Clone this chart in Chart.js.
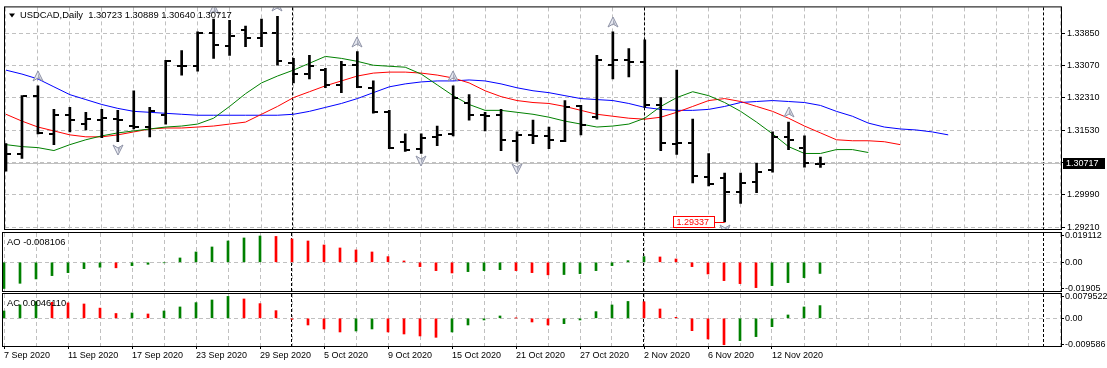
<!DOCTYPE html>
<html>
<head>
<meta charset="utf-8">
<title>USDCAD Daily</title>
<script src="https://cdn.jsdelivr.net/npm/chart.js@4.4.1/dist/chart.umd.min.js"></script>
<style>
  html, body { margin: 0; padding: 0; background: #fff; }
  body { position: relative; width: 1107px; height: 368px; overflow: hidden; }
  canvas { position: absolute; left: 0; }
  #main { top: 0; }
  #ao { top: 226px; }
  #ac { top: 286px; }
</style>
</head>
<body>
<canvas id="main" width="1107" height="240"></canvas>
<canvas id="ao" width="1107" height="72"></canvas>
<canvas id="ac" width="1107" height="82"></canvas>
<script>
const symbol = 'USDCAD,Daily';

const dates = ['7 Sep 2020','8 Sep 2020','9 Sep 2020','10 Sep 2020','11 Sep 2020','14 Sep 2020','15 Sep 2020','16 Sep 2020','17 Sep 2020','18 Sep 2020',
  '21 Sep 2020','22 Sep 2020','23 Sep 2020','24 Sep 2020','25 Sep 2020','28 Sep 2020','29 Sep 2020','30 Sep 2020','1 Oct 2020','2 Oct 2020',
  '5 Oct 2020','6 Oct 2020','7 Oct 2020','8 Oct 2020','9 Oct 2020','12 Oct 2020','13 Oct 2020','14 Oct 2020','15 Oct 2020','16 Oct 2020',
  '19 Oct 2020','20 Oct 2020','21 Oct 2020','22 Oct 2020','23 Oct 2020','26 Oct 2020','27 Oct 2020','28 Oct 2020','29 Oct 2020','30 Oct 2020',
  '2 Nov 2020','3 Nov 2020','4 Nov 2020','5 Nov 2020','6 Nov 2020','9 Nov 2020','10 Nov 2020','11 Nov 2020','12 Nov 2020','13 Nov 2020',
  '16 Nov 2020','17 Nov 2020'];

const open = [1.31022,1.30951,1.32357,1.31443,1.31889,1.31678,1.31771,1.31795,1.31631,1.31607,
  1.31889,1.33060,1.33060,1.33857,1.33552,1.33927,1.33740,1.33857,1.33131,1.32873,
  1.32967,1.32615,1.33084,1.32545,1.31959,1.31256,1.31092,1.31373,1.31443,1.32193,
  1.31889,1.31889,1.31279,1.31420,1.31396,1.31279,1.32099,1.31842,1.33084,1.33201,
  1.33154,1.32123,1.31209,1.31232,1.30412,1.30389,1.30061,1.30295,1.30576,1.31373,
  1.31115,1.30723];
const high = [1.31209,1.32357,1.32592,1.32029,1.32076,1.31959,1.32029,1.32006,1.32474,1.32076,
  1.33201,1.33435,1.33880,1.34185,1.34160,1.34021,1.34185,1.34255,1.33248,1.33318,
  1.33013,1.33177,1.33412,1.32709,1.32006,1.31443,1.31443,1.31631,1.32592,1.32381,
  1.31959,1.32029,1.31490,1.31771,1.31607,1.32240,1.32123,1.33318,1.33880,1.33482,
  1.33693,1.32310,1.32967,1.31795,1.30975,1.30506,1.30506,1.30740,1.31490,1.31725,
  1.31396,1.30889];
const low = [1.30553,1.30857,1.31440,1.31186,1.31490,1.31537,1.31350,1.31256,1.31561,1.31373,
  1.31678,1.32849,1.32943,1.33248,1.33318,1.33529,1.33529,1.33084,1.32662,1.32756,
  1.32545,1.32428,1.32545,1.31940,1.31092,1.31022,1.30975,1.31162,1.31396,1.31771,
  1.31514,1.31045,1.30787,1.31209,1.31092,1.31256,1.31420,1.31795,1.32756,1.32803,
  1.32076,1.31045,1.30951,1.30272,1.30201,1.29337,1.29779,1.30037,1.30529,1.31068,
  1.30647,1.30640];
const close = [1.30951,1.32340,1.31467,1.31889,1.31771,1.31795,1.31818,1.31771,1.31607,1.31982,
  1.33177,1.33070,1.33857,1.33576,1.33787,1.33740,1.33857,1.33177,1.32873,1.33060,
  1.32615,1.33084,1.32568,1.31959,1.31115,1.31068,1.31350,1.31420,1.32310,1.31889,
  1.31870,1.31303,1.31420,1.31396,1.31303,1.32076,1.31654,1.33201,1.33201,1.33154,
  1.32123,1.31232,1.31232,1.30436,1.30248,1.30061,1.30272,1.30529,1.31373,1.31303,
  1.30740,1.30717];

// Alligator lines (already shifted forward past the last bar)
const jaw = [1.32967,1.32873,1.32756,1.32568,1.32381,1.32263,1.32146,1.32053,1.31982,1.31959,
  1.31935,1.31912,1.31889,1.31889,1.31889,1.31889,1.31889,1.31889,1.31912,1.31982,
  1.32076,1.32170,1.32287,1.32428,1.32568,1.32638,1.32685,1.32709,1.32709,1.32732,
  1.32709,1.32638,1.32545,1.32474,1.32428,1.32357,1.32287,1.32263,1.32240,1.32170,
  1.32076,1.32029,1.32006,1.32006,1.32029,1.32099,1.32193,1.32217,1.32240,1.32217,
  1.32193,1.32123,1.31982,1.31865,1.31701,1.31607,1.31561,1.31537,1.31490,1.31420];
const teeth = [1.31912,1.31748,1.31607,1.31514,1.31420,1.31373,1.31373,1.31420,1.31490,1.31561,
  1.31584,1.31584,1.31607,1.31631,1.31678,1.31725,1.31912,1.32099,1.32310,1.32451,
  1.32592,1.32709,1.32826,1.32896,1.32920,1.32920,1.32896,1.32849,1.32779,1.32662,
  1.32474,1.32334,1.32240,1.32193,1.32170,1.32099,1.32006,1.31912,1.31865,1.31818,
  1.31795,1.31842,1.31959,1.32099,1.32240,1.32287,1.32217,1.32099,1.31982,1.31818,
  1.31631,1.31467,1.31303,1.31279,1.31279,1.31256,1.31186];
const lips = [1.31186,1.31139,1.31115,1.31045,1.31186,1.31303,1.31396,1.31467,1.31514,1.31561,
  1.31607,1.31631,1.31678,1.31818,1.32099,1.32404,1.32662,1.32826,1.32967,1.33131,
  1.33295,1.33248,1.33177,1.33084,1.33060,1.33037,1.32873,1.32615,1.32357,1.32146,
  1.32006,1.32006,1.31959,1.31912,1.31842,1.31748,1.31678,1.31607,1.31631,1.31678,
  1.31818,1.32099,1.32310,1.32451,1.32357,1.32193,1.31982,1.31725,1.31443,1.31139,
  1.30975,1.30975,1.31068,1.31068,1.30998];

const fractalUp = [2, 13, 17, 22, 28, 38, 49];
const fractalDown = [7, 26, 32, 45];

const ao = [-0.01905,-0.01526,-0.01211,-0.00969,-0.00751,-0.00460,-0.00360,-0.00400,-0.00242,-0.00145,
  -0.00030,0.00315,0.00751,0.01114,0.01550,0.01768,0.019112,0.01880,0.01696,0.01550,
  0.01260,0.01042,0.00896,0.00751,0.00412,0.00097,-0.00315,-0.00605,-0.00775,-0.00678,
  -0.00605,-0.00533,-0.00605,-0.00751,-0.00910,-0.00890,-0.00823,-0.00605,-0.00242,0.00120,
  0.00412,0.00388,0.00242,-0.00315,-0.00848,-0.01332,-0.01550,-0.01841,-0.01696,-0.01478,
  -0.01114,-0.008106];
const ac = [0.00266,0.00484,0.00605,0.00580,0.00560,0.00520,0.00370,0.00175,0.00194,0.00157,
  0.00266,0.00412,0.00569,0.00665,0.0079522,0.00702,0.00533,0.00278,-0.00040,-0.00242,
  -0.00387,-0.00496,-0.00460,-0.00387,-0.00496,-0.00569,-0.00641,-0.00690,-0.00496,-0.00242,
  -0.00060,0.00085,0.00010,-0.00133,-0.00242,-0.00194,-0.00060,0.00242,0.00484,0.00612,
  0.00600,0.00339,0.00036,-0.00448,-0.00750,-0.009586,-0.00811,-0.00665,-0.00303,0.00121,
  0.00412,0.0046110];

const priceTicks = [1.29210, 1.29990, 1.30760, 1.31530, 1.32310, 1.33070, 1.33850];
const aoTicks = [-0.01905, 0, 0.019112];
const acTicks = [-0.009586, 0, 0.0079522];
const separators = [18, 40, 65];

const FONT = '"Liberation Sans", Arial, sans-serif';
Chart.defaults.font.family = FONT;
Chart.defaults.font.size = 9;
Chart.defaults.color = '#000';

const GRID = '#c0c0c0';
const GREEN = '#008000';
const RED = '#ff0000';
const gridBars = Array.from({length: 34}, (_, k) => k * 2);

function dateLabel(v) {
  return Number.isInteger(v) && v % 4 === 0 && v < dates.length ? dates[v] : '';
}

function xAxis(withLabels) {
  return {
    type: 'linear', min: -0.0625, max: 66.0625, offset: false,
    afterBuildTicks: s => { s.ticks = gridBars.map(v => ({value: v})); },
    afterFit: s => { s.height = withLabels ? 22 : 0; },
    grid: {
      offset: false, color: GRID, drawTicks: withLabels, tickLength: 3, tickBorderDash: [],
      tickColor: c => (c.tick && dateLabel(c.tick.value)) ? '#000' : 'rgba(0,0,0,0)'
    },
    border: {display: false, dash: [4, 3]},
    ticks: {display: withLabels, autoSkip: false, maxRotation: 0, minRotation: 0, align: 'start', padding: 1,
      callback: v => dateLabel(v)}
  };
}

function panelAxis(min, max, values) {
  return {
    type: 'linear', position: 'right', min: min, max: max,
    afterBuildTicks: s => { s.ticks = values.map(v => ({value: v})); },
    afterFit: s => { s.width = 46; },
    grid: {color: c => (c.tick && c.tick.value === 0) ? GRID : 'rgba(0,0,0,0)',
      tickLength: 3, tickColor: '#000', tickBorderDash: []},
    border: {display: false, dash: [4, 3]},
    ticks: {padding: 1, callback: v => v === 0 ? '0.00' : String(v)}
  };
}

// bar ticks and fractal arrows as point images
function tickImg(isOpen) {
  const c = document.createElement('canvas');
  c.width = 10; c.height = 2;
  const g = c.getContext('2d');
  g.fillStyle = '#000';
  g.fillRect(isOpen ? 0 : 6, 0, 4, 2);
  return c;
}
function arrowImg(up) {
  const c = document.createElement('canvas');
  c.width = 12; c.height = 36;
  const g = c.getContext('2d');
  g.translate(6, up ? 8 : 26);
  if (!up) g.scale(1, -1);
  g.beginPath(); g.moveTo(0, -5); g.lineTo(-5, 5); g.lineTo(0, 2); g.lineTo(5, 5); g.closePath();
  g.fillStyle = '#e6e8f0'; g.fill();
  g.strokeStyle = '#8c90a4'; g.lineWidth = 1; g.stroke();
  g.beginPath(); g.moveTo(0, -3); g.lineTo(3, 4); g.lineTo(0, 2); g.closePath();
  g.fillStyle = '#a4a8b8'; g.fill();
  return c;
}

const panelFrame = {
  id: 'panelFrame',
  beforeDatasetsDraw(chart) {
    const {ctx, chartArea: a, scales: {x}} = chart;
    ctx.save();
    ctx.strokeStyle = '#000'; ctx.lineWidth = 1; ctx.setLineDash([3, 2]);
    separators.forEach(i => {
      const px = Math.round(x.getPixelForValue(i)) - 0.5;
      ctx.beginPath(); ctx.moveTo(px, a.top); ctx.lineTo(px, a.bottom); ctx.stroke();
    });
    ctx.restore();
    ctx.imageSmoothingEnabled = false;
  },
  afterDraw(chart) {
    const {ctx, chartArea: a} = chart;
    ctx.save();
    ctx.strokeStyle = '#000'; ctx.lineWidth = 1;
    ctx.strokeRect(a.left - 0.5, a.top - 0.5, a.right - a.left + 1, a.bottom - a.top + 1);
    ctx.restore();
  }
};

const last = close.length - 1;

const priceExtras = {
  id: 'priceExtras',
  beforeDatasetsDraw(chart) {
    const {ctx, chartArea: a, scales: {y}} = chart;
    const py = Math.round(y.getPixelForValue(close[last])) - 0.5;
    ctx.save();
    ctx.strokeStyle = GRID; ctx.lineWidth = 1;
    ctx.beginPath(); ctx.moveTo(a.left, py); ctx.lineTo(a.right, py); ctx.stroke();
    ctx.restore();
  },
  afterDraw(chart) {
    const {ctx, chartArea: a, scales: {x, y}} = chart;
    ctx.save();
    // bid label
    const py = Math.round(y.getPixelForValue(close[last]));
    ctx.fillStyle = '#000';
    ctx.fillRect(a.right + 2, py - 6, 42, 11);
    ctx.fillStyle = '#fff';
    ctx.textBaseline = 'middle';
    ctx.font = '9px ' + FONT;
    ctx.fillText(close[last].toFixed(5), a.right + 5, py);
    // lowest low label
    const li = low.indexOf(Math.min(...low));
    const lx = x.getPixelForValue(li);
    const ly = Math.round(y.getPixelForValue(low[li])) + 0.5;
    const bx = Math.round(lx) - 51.5;
    ctx.strokeStyle = RED; ctx.lineWidth = 1;
    ctx.fillStyle = '#fff';
    ctx.fillRect(bx, ly - 6, 41, 11);
    ctx.strokeRect(bx, ly - 6, 41, 11);
    ctx.beginPath(); ctx.moveTo(bx + 41, ly); ctx.lineTo(lx, ly); ctx.stroke();
    ctx.fillStyle = RED;
    ctx.fillText(low[li].toFixed(5), bx + 3, ly);
    // header
    ctx.fillStyle = '#000';
    ctx.beginPath();
    ctx.moveTo(a.left + 4, a.top + 6); ctx.lineTo(a.left + 10, a.top + 6); ctx.lineTo(a.left + 7, a.top + 10);
    ctx.closePath(); ctx.fill();
    ctx.font = '9.4px ' + FONT;
    ctx.fillText(symbol + '  ' + [open[last], high[last], low[last], close[last]].map(v => v.toFixed(5)).join(' '),
      a.left + 15, a.top + 8);
    ctx.restore();
  }
};

function panelLabel(text) {
  return {
    id: 'panelLabel',
    afterDraw(chart) {
      const {ctx, chartArea: a} = chart;
      ctx.save();
      ctx.fillStyle = '#000';
      ctx.textBaseline = 'middle';
      ctx.font = '9.4px ' + FONT;
      ctx.fillText(text, a.left + 4, a.top + 9);
      ctx.restore();
    }
  };
}

const pts = arr => arr.map((v, i) => ({x: i, y: v}));
const baseOptions = {
  responsive: false, animation: false, events: [],
  plugins: {legend: {display: false}, tooltip: {enabled: false}}
};

new Chart(document.getElementById('main'), {
  type: 'bar',
  data: {
    datasets: [
      {type: 'scatter', data: fractalUp.map(i => ({x: i, y: high[i]})), pointStyle: arrowImg(true), pointRadius: 3, order: 0},
      {type: 'scatter', data: fractalDown.map(i => ({x: i, y: low[i]})), pointStyle: arrowImg(false), pointRadius: 3, order: 0},
      {type: 'scatter', data: pts(open), pointStyle: tickImg(true), pointRadius: 3, order: 1},
      {type: 'scatter', data: pts(close), pointStyle: tickImg(false), pointRadius: 3, order: 1},
      {type: 'bar', data: high.map((h, i) => ({x: i, y: [low[i], h]})), backgroundColor: '#000',
        barThickness: 2, borderWidth: 0, order: 2},
      {type: 'line', data: pts(lips), borderColor: GREEN, borderWidth: 1, pointRadius: 0, tension: 0, order: 3},
      {type: 'line', data: pts(teeth), borderColor: RED, borderWidth: 1, pointRadius: 0, tension: 0, order: 3},
      {type: 'line', data: pts(jaw), borderColor: '#0000ff', borderWidth: 1, pointRadius: 0, tension: 0, order: 3}
    ]
  },
  options: Object.assign({}, baseOptions, {
    layout: {padding: {left: 3, top: 3, right: 0, bottom: 11}},
    scales: {
      x: xAxis(false),
      y: {
        type: 'linear', position: 'right', min: 1.291702, max: 1.344663,
        afterBuildTicks: s => { s.ticks = priceTicks.map(v => ({value: v})); },
        afterFit: s => { s.width = 46; },
        grid: {color: GRID, tickLength: 4, tickColor: '#000', tickBorderDash: []},
        border: {display: false, dash: [4, 3]},
        ticks: {padding: 2, callback: v => v.toFixed(5)}
      }
    }
  }),
  plugins: [panelFrame, priceExtras]
});

const histColor = series => c => (c.dataIndex > 0 && series[c.dataIndex] <= series[c.dataIndex - 1]) ? RED : GREEN;

new Chart(document.getElementById('ao'), {
  type: 'bar',
  data: {datasets: [{data: pts(ao), backgroundColor: histColor(ao), barThickness: 2, borderWidth: 0}]},
  options: Object.assign({}, baseOptions, {
    layout: {padding: {left: 3, top: 7, right: 0, bottom: 7}},
    scales: {x: xAxis(false), y: panelAxis(-0.02086, 0.02129, aoTicks)}
  }),
  plugins: [panelFrame, panelLabel('AO ' + ao[last].toFixed(6))]
});

new Chart(document.getElementById('ac'), {
  type: 'bar',
  data: {datasets: [{data: pts(ac), backgroundColor: histColor(ac), barThickness: 2, borderWidth: 0}]},
  options: Object.assign({}, baseOptions, {
    layout: {padding: {left: 3, top: 8, right: 0, bottom: 0}},
    scales: {x: xAxis(true), y: panelAxis(-0.01005, 0.00882, acTicks)}
  }),
  plugins: [panelFrame, panelLabel('AC ' + ac[last].toFixed(7))]
});
</script>
</body>
</html>
